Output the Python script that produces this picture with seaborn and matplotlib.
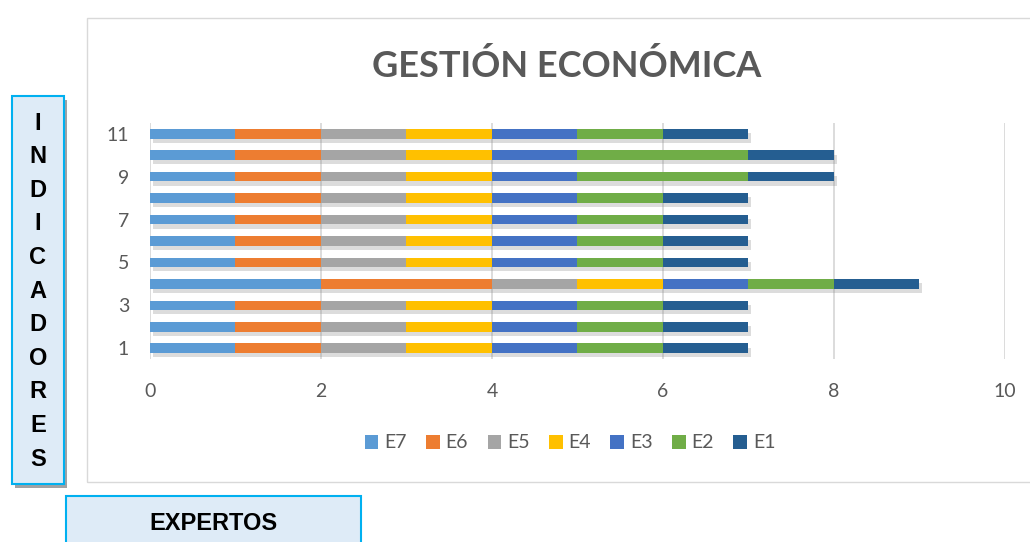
"""
Gestión económica: indicadores valorados por expertos (barras apiladas).
"""
import pandas as pd
import matplotlib
matplotlib.use("Agg")
import matplotlib.pyplot as plt
import matplotlib.patheffects as pe
from matplotlib.patches import Rectangle, Patch
import seaborn as sns

# datos (de arriba hacia abajo)
indicadores = ["11", "10", "9", "8", "7", "6", "5", "4", "3", "2", "1"]
expertos = ["E7", "E6", "E5", "E4", "E3", "E2", "E1"]
e7 = [1, 1, 1, 1, 1, 1, 1, 2, 1, 1, 1]
e6 = [1, 1, 1, 1, 1, 1, 1, 2, 1, 1, 1]
e5 = [1, 1, 1, 1, 1, 1, 1, 1, 1, 1, 1]
e4 = [1, 1, 1, 1, 1, 1, 1, 1, 1, 1, 1]
e3 = [1, 1, 1, 1, 1, 1, 1, 1, 1, 1, 1]
e2 = [1, 2, 2, 1, 1, 1, 1, 1, 1, 1, 1]
e1 = [1, 1, 1, 1, 1, 1, 1, 1, 1, 1, 1]
x_ticks = [0, 2, 4, 6, 8, 10]
colores = ["#5B9BD5", "#ED7D31", "#A5A5A5", "#FFC000", "#4472C4", "#70AD47", "#255E91"]

df = pd.DataFrame({"indicador": indicadores, "E7": e7, "E6": e6, "E5": e5,
                   "E4": e4, "E3": e3, "E2": e2, "E1": e1})

sns.set_theme(style="white")
plt.rcParams["font.family"] = ["Lato", "DejaVu Sans"]
gris = "#595959"

fig = plt.figure(figsize=(10.3, 5.42), dpi=100)
ax = fig.add_axes([0.1456, 0.3376, 0.830, 0.4354])

# apilado: se dibuja del acumulado total hacia el primero
for i in range(len(expertos) - 1, -1, -1):
    acum = df[expertos[:i + 1]].sum(axis=1)
    n_antes = len(ax.patches)
    sns.barplot(x=acum, y=df["indicador"], order=indicadores, orient="h",
                color=colores[i], saturation=1, width=0.45, errorbar=None,
                linewidth=0, edgecolor="none", ax=ax)
    if i == len(expertos) - 1:
        for p in ax.patches[n_antes:]:
            p.set_path_effects([pe.SimplePatchShadow(offset=(2, -3), shadow_rgbFace="#8c8c8c", alpha=0.3),
                                pe.Normal()])

ax.set_xlim(0, 10)
ax.set_ylim(len(indicadores) - 0.5, -0.5)
ax.set_xticks(x_ticks)
ax.set_xticklabels([str(t) for t in x_ticks])
ax.set_yticks(range(0, len(indicadores), 2))
ax.set_yticklabels(indicadores[::2])
ax.set_xlabel("")
ax.set_ylabel("")
ax.tick_params(axis="both", length=0, labelsize=14, labelcolor=gris)
ax.tick_params(axis="x", pad=17)
ax.tick_params(axis="y", pad=15)
ax.xaxis.grid(True, color="#D9D9D9", linewidth=1.3)
ax.yaxis.grid(False)
ax.set_axisbelow(True)
for s in ax.spines.values():
    s.set_visible(False)

# recuadro del grafico
fig.add_artist(Rectangle((87 / 1030, 1 - 482 / 542), (1040 - 87) / 1030, (482 - 18) / 542,
                         transform=fig.transFigure, fill=False, edgecolor="#D9D9D9", lw=1))

fig.text(567 / 1030, 1 - 66 / 542, "GESTIÓN ECONÓMICA", ha="center", va="center",
         fontsize=26, fontweight="bold", color=gris)

handles = [Patch(facecolor=c, edgecolor="none") for c in colores]
fig.legend(handles, expertos, loc="center", bbox_to_anchor=(570 / 1030, 1 - 443 / 542),
           ncol=7, frameon=False, handlelength=0.7, handleheight=0.7, handletextpad=0.3,
           columnspacing=1.0, fontsize=14, labelcolor=gris)

# caja lateral "INDICADORES"
caja_izq = Rectangle((12 / 1030, 1 - 484 / 542), 52 / 1030, 388 / 542, transform=fig.transFigure,
                     facecolor="#DEEBF7", edgecolor="#00B0F0", lw=1.5,
                     path_effects=[pe.SimplePatchShadow(offset=(2, -3), alpha=0.5), pe.Normal()])
fig.add_artist(caja_izq)
letras = list("INDICADORES")
for k, letra in enumerate(letras):
    fig.text(38 / 1030, 1 - (123 + k * 33.6) / 542, letra, ha="center", va="center",
             fontsize=17, fontweight="bold", color="black",
             family=["Liberation Sans Narrow", "Liberation Sans", "DejaVu Sans"])

# caja inferior "EXPERTOS"
caja_inf = Rectangle((66 / 1030, 1 - 560 / 542), 295 / 1030, 64 / 542, transform=fig.transFigure,
                     facecolor="#DEEBF7", edgecolor="#00B0F0", lw=1.5)
fig.add_artist(caja_inf)
fig.text(213 / 1030, 1 - 524 / 542, "EXPERTOS", ha="center", va="center",
         fontsize=17, fontweight="bold", color="black",
         family=["Liberation Sans Narrow", "Liberation Sans", "DejaVu Sans"])

fig.savefig("out.png", dpi=100)
plt.close(fig)
